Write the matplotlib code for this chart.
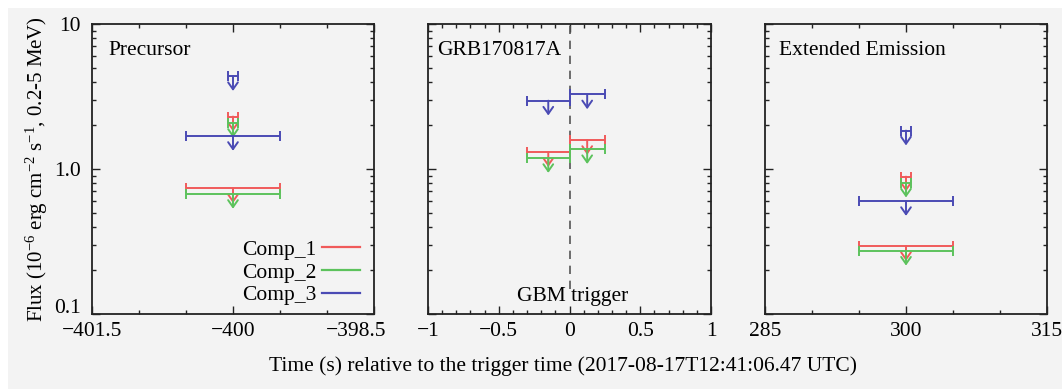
import matplotlib
matplotlib.use("Agg")
import matplotlib.pyplot as plt
from matplotlib.lines import Line2D
from matplotlib.patches import Rectangle
from matplotlib.transforms import ScaledTranslation
from matplotlib.ticker import FixedLocator, MultipleLocator, LogLocator, NullFormatter, FixedFormatter

plt.rcParams['font.family'] = ['Liberation Serif', 'DejaVu Serif']
plt.rcParams['mathtext.fontset'] = 'custom'
plt.rcParams['mathtext.rm'] = 'Liberation Serif'
plt.rcParams['mathtext.it'] = 'Liberation Serif:italic'
plt.rcParams['font.size'] = 15.5

# ---------------- data ----------------
series = ['Comp_1', 'Comp_2', 'Comp_3']
colors = ['#f05a5a', '#5cc25c', '#4a4ab4']

# Precursor panel (upper limits)
pre_x = [-400.0, -400.0, -400.0]
pre_xerr_wide = [0.5, 0.5, 0.5]
pre_y_wide = [0.736, 0.673, 1.69]
pre_xerr_small = [0.05, 0.05, 0.05]
pre_y_small = [2.30, 2.08, 4.37]

# GRB170817A main emission panel (two intervals)
main_x = [-0.15, 0.125]
main_xerr = [0.15, 0.125]
main_y = {'Comp_1': [1.31, 1.585],
          'Comp_2': [1.19, 1.37],
          'Comp_3': [2.96, 3.27]}

# Extended emission panel
ext_x = [300.0, 300.0, 300.0]
ext_xerr_wide = [5.0, 5.0, 5.0]
ext_y_wide = [0.294, 0.273, 0.601]
ext_xerr_small = [0.5, 0.5, 0.5]
ext_y_small = [0.886, 0.805, 1.84]

panel_titles = ['Precursor', 'GRB170817A', 'Extended Emission']
xlims = [(-401.5, -398.5), (-1, 1), (285, 315)]
xticks = [[-401.5, -400, -398.5], [-1, -0.5, 0, 0.5, 1], [285, 300, 315]]
xticklabels = [['\u2212401.5', '\u2212400', '\u2212398.5'],
               ['\u22121', '\u22120.5', '0', '0.5', '1'],
               ['285', '300', '315']]
xminor = [0.5, 0.1, 5]
yticks = [0.1, 1.0, 10]
yticklabels = ['0.1', '1.0', '10']

ARROW = 0.79  # arrow length factor (log scale)

bg = '#f3f3f3'
fig = plt.figure(figsize=(10.62, 3.89), dpi=100)
fig.patch.set_facecolor('white')
fig.patches.append(Rectangle((8 / 1062, 0), 1 - 8 / 1062, 1 - 8 / 389,
                             transform=fig.transFigure, facecolor=bg,
                             edgecolor='none', zorder=-10))

rects = [(92, 282), (428, 283), (765, 282)]
axes = []
for (l, w) in rects:
    ax = fig.add_axes([l / 1062, (389 - 314) / 389, w / 1062, 290 / 389])
    ax.set_facecolor(bg)
    axes.append(ax)


def ulim(ax, x, y, xerr, c):
    ax.errorbar([x], [y], xerr=[xerr], fmt='none', ecolor=c, elinewidth=1.4,
                capsize=3.5, capthick=1.4, zorder=3)
    ax.annotate('', xy=(x, y * ARROW), xytext=(x, y),
                arrowprops=dict(arrowstyle='->,head_length=0.5,head_width=0.35',
                                color=c, lw=1.4, shrinkA=0, shrinkB=0,
                                mutation_scale=10), zorder=3)


# Precursor
for i, c in enumerate(colors):
    ulim(axes[0], pre_x[i], pre_y_wide[i], pre_xerr_wide[i], c)
    ulim(axes[0], pre_x[i], pre_y_small[i], pre_xerr_small[i], c)

# Main emission
axes[1].axvline(0, ymin=0.085, ymax=1, color='#555555', lw=1.2, ls=(0, (5, 4)), zorder=2)
for s, c in zip(series, colors):
    for j in range(len(main_x)):
        ulim(axes[1], main_x[j], main_y[s][j], main_xerr[j], c)
axes[1].text(0.025, 0.045, 'GBM trigger', transform=axes[1].get_xaxis_transform(),
             ha='center', va='baseline')

# Extended emission
for i, c in enumerate(colors):
    ulim(axes[2], ext_x[i], ext_y_wide[i], ext_xerr_wide[i], c)
    ulim(axes[2], ext_x[i], ext_y_small[i], ext_xerr_small[i], c)

title_x = [0.06, 0.034, 0.05]
for k, ax in enumerate(axes):
    ax.set_yscale('log')
    ax.set_ylim(0.1, 10)
    ax.set_xlim(*xlims[k])
    ax.xaxis.set_major_locator(FixedLocator(xticks[k]))
    ax.xaxis.set_major_formatter(FixedFormatter(xticklabels[k]))
    ax.xaxis.set_minor_locator(MultipleLocator(xminor[k]))
    ax.yaxis.set_major_locator(FixedLocator(yticks))
    ax.yaxis.set_minor_locator(LogLocator(base=10, subs=range(2, 10)))
    ax.yaxis.set_minor_formatter(NullFormatter())
    if k == 0:
        ax.yaxis.set_major_formatter(FixedFormatter(yticklabels))
    else:
        ax.yaxis.set_major_formatter(NullFormatter())
    ax.tick_params(which='both', direction='in', top=True, right=True,
                   width=1.0, colors='#222222', labelcolor='black')
    ax.tick_params(which='major', length=6)
    ax.tick_params(which='minor', length=3)
    ax.tick_params(axis='x', pad=6)
    ax.tick_params(axis='y', pad=8)
    for sp in ax.spines.values():
        sp.set_linewidth(1.3)
        sp.set_color('#222222')
    ax.text(title_x[k], 0.94, panel_titles[k], transform=ax.transAxes,
            ha='left', va='top')

axes[0].set_ylabel('Flux (10$^{-6}$ erg cm$^{-2}$ s$^{-1}$, 0.2-5 MeV)', fontsize=15)
axes[0].yaxis.set_label_coords(-0.15, 0.5)

# shift a few tick labels like in the reference
ylabs = axes[0].yaxis.get_majorticklabels()
ylabs[0].set_transform(ylabs[0].get_transform() + ScaledTranslation(0, 6 / 72, fig.dpi_scale_trans))
xlabs = axes[0].xaxis.get_majorticklabels()
xlabs[2].set_transform(xlabs[2].get_transform() + ScaledTranslation(-13 / 72, 0, fig.dpi_scale_trans))

handles = [Line2D([], [], color=c, lw=1.6) for c in colors]
axes[0].legend(handles, series, loc='lower right', bbox_to_anchor=(0.95, 0.03),
               frameon=False, markerfirst=False, handlelength=1.75,
               handletextpad=0.25, labelspacing=0.12, borderpad=0,
               borderaxespad=0)

fig.text(0.530, 0.059, 'Time (s) relative to the trigger time (2017-08-17T12:41:06.47 UTC)',
         ha='center', va='center')

fig.savefig('out.png', dpi=100, facecolor=fig.get_facecolor())
